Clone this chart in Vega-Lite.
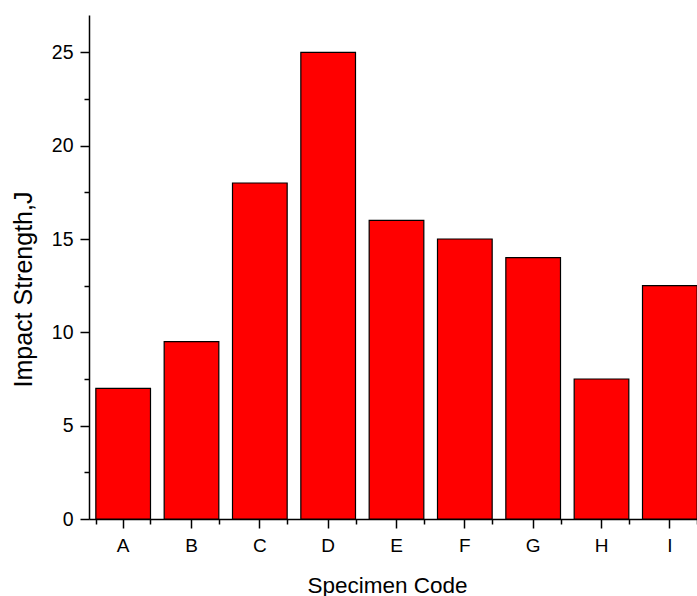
{
  "$schema": "https://vega.github.io/schema/vega-lite/v6.json",
  "width": 608,
  "height": 504,
  "autosize": {"type": "none"},
  "padding": {"left": 89, "top": 15, "right": 0, "bottom": 77},
  "background": "white",
  "data": {
    "values": [
      {"Code": "A", "Value": 7},
      {"Code": "B", "Value": 9.5},
      {"Code": "C", "Value": 18},
      {"Code": "D", "Value": 25},
      {"Code": "E", "Value": 16},
      {"Code": "F", "Value": 15},
      {"Code": "G", "Value": 14},
      {"Code": "H", "Value": 7.5},
      {"Code": "I", "Value": 12.5}
    ]
  },
  "config": {
    "view": {"stroke": null},
    "font": "Liberation Sans",
    "axis": {
      "grid": false,
      "domainColor": "#000000",
      "domainWidth": 1.5,
      "tickColor": "#000000",
      "tickWidth": 1.5,
      "labelColor": "#000000",
      "titleColor": "#000000",
      "titleFontWeight": "normal",
      "labelFont": "Liberation Sans",
      "titleFont": "Liberation Sans"
    }
  },
  "layer": [
    {
      "mark": {"type": "bar", "fill": "#ff0000", "stroke": "#000000", "strokeWidth": 1.2},
      "encoding": {
        "x": {
          "field": "Code",
          "type": "nominal",
          "sort": null,
          "scale": {"range": [0, 615], "paddingInner": 0.2, "paddingOuter": 0.1},
          "axis": {
            "orient": "bottom",
            "title": "Specimen Code",
            "titleFontSize": 22.5,
            "titleBaseline": "alphabetic",
            "titleX": 298,
            "titleY": 73,
            "labelFontSize": 19,
            "labelAngle": 0,
            "tickSize": 9,
            "labelPadding": 8
          }
        },
        "y": {
          "field": "Value",
          "type": "quantitative",
          "scale": {"domain": [0, 27], "nice": false},
          "axis": {
            "orient": "left",
            "values": [0, 5, 10, 15, 20, 25],
            "title": "Impact Strength,J",
            "titleFontSize": 25,
            "titleAngle": -90,
            "titleBaseline": "alphabetic",
            "titleX": -58,
            "titleY": 274,
            "labelFontSize": 19.5,
            "tickSize": 9,
            "labelPadding": 7
          }
        }
      }
    },
    {
      "mark": {"type": "bar", "opacity": 0},
      "encoding": {
        "x": {
          "field": "Code",
          "type": "nominal",
          "sort": null,
          "axis": {
            "orient": "bottom",
            "tickBand": "extent",
            "labels": false,
            "domain": false,
            "title": null,
            "tickSize": 5
          }
        },
        "y": {
          "field": "Value",
          "type": "quantitative",
          "axis": {
            "orient": "left",
            "values": [2.5, 7.5, 12.5, 17.5, 22.5],
            "labels": false,
            "domain": false,
            "title": null,
            "tickSize": 5
          }
        }
      }
    }
  ],
  "resolve": {"axis": {"x": "independent", "y": "independent"}}
}
